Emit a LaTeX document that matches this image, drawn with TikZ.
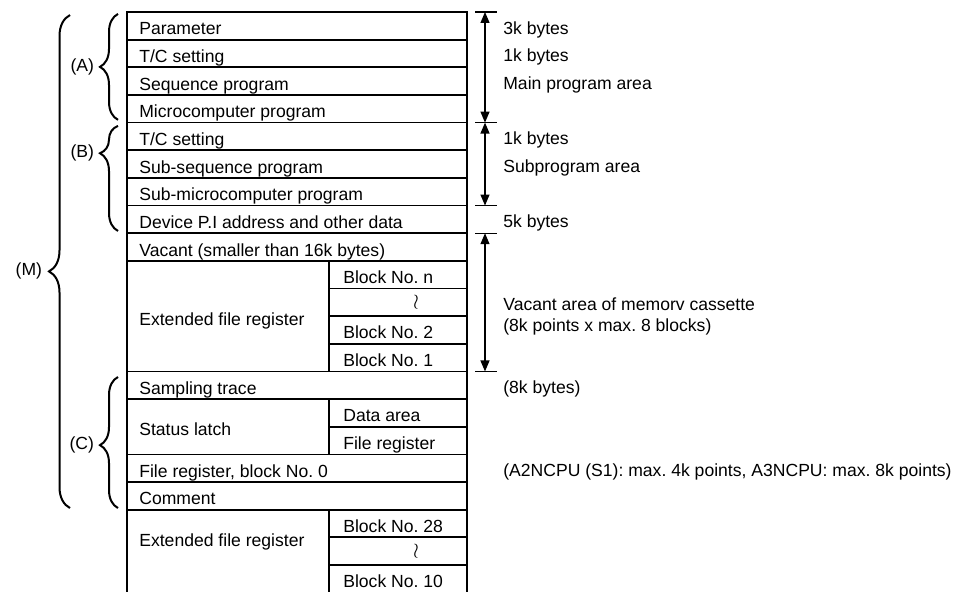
\documentclass[tikz,border=0pt]{standalone}
\usepackage{fontspec}
\setmainfont{Liberation Sans}
\usepackage{tikz}
\usetikzlibrary{arrows.meta,positioning,decorations.pathreplacing}
\frenchspacing
\tikzset{
  memmap/.style={x=0.2mm, y=-5.53mm, >={Triangle[length=2.2mm,width=1.8mm]},
                 every node/.style={font=\fontsize{10}{12}\selectfont, inner sep=0pt}},
  cell/.style={anchor=base west, yshift=-1.8mm},
  note/.style={anchor=base west, yshift=-1.7mm},
  gap/.style={font=\fontsize{13}{13}\selectfont},
  frm/.style={line width=0.55mm},
  hl/.style={line width=0.35mm},
  dim/.style={<->, line width=0.25mm},
  tk/.style={line width=0.25mm},
  grp/.style 2 args={decorate, decoration={brace, amplitude=#1, aspect=#2}, line width=0.4mm}
}

\begin{document}
\begin{tikzpicture}[memmap]
\useasboundingbox (0,-0.434) rectangle (967,20.976);
% table frame and rules
\draw[frm] (127,20.976) -- (127,0) -- (467,0) -- (467,20.976);
\draw[hl] (127,1) -- (467,1) (127,2) -- (467,2) (127,3) -- (467,3) (127,4) -- (467,4)
  (127,5) -- (467,5) (127,6) -- (467,6) (127,7) -- (467,7) (127,8) -- (467,8) (127,9) -- (467,9)
  (127,13) -- (467,13) (127,14) -- (467,14) (127,16) -- (467,16) (127,17) -- (467,17) (127,18) -- (467,18);
\draw[hl] (329,9) -- (329,13) (329,10) -- (467,10) (329,11) -- (467,11) (329,12) -- (467,12)
  (329,14) -- (329,16) (329,15) -- (467,15)
  (329,18) -- (329,20.976) (329,19) -- (467,19) (329,20) -- (467,20);
% cells
\node[cell] (par) at (139,0.5) {Parameter};
\node[cell] (tc1) at (139,1.5) {T/C setting};
\node[cell] (seq) at (139,2.5) {Sequence program};
\node[cell] (mic) at (139,3.5) {Microcomputer program};
\node[cell] (tc2) at (139,4.5) {T/C setting};
\node[cell] (sseq) at (139,5.5) {Sub-sequence program};
\node[cell] (smic) at (139,6.5) {Sub-microcomputer program};
\node[cell] (dev) at (139,7.5) {Device P.I address and other data};
\node[cell] (vac) at (139,8.5) {Vacant (smaller than 16k bytes)};
\node[cell] (ext1) at (139,11) {Extended file register};
\node[cell] (bn) at (343,9.5) {Block No. n};
\node[gap] (wr1) at (416,10.5) {$\wr$};
\node[cell] (b2) at (343,11.5) {Block No. 2};
\node[cell] (b1) at (343,12.5) {Block No. 1};
\node[cell] (smp) at (139,13.5) {Sampling trace};
\node[cell] (stl) at (139,15) {Status latch};
\node[cell] (dat) at (343,14.5) {Data area};
\node[cell] (fr) at (343,15.5) {File register};
\node[cell] (fr0) at (139,16.5) {File register, block No. 0};
\node[cell] (cmt) at (139,17.5) {Comment};
\node[cell] (ext2) at (139,19) {Extended file register};
\node[cell] (b28) at (343,18.5) {Block No. 28};
\node[gap] (wr2) at (416,19.5) {$\wr$};
\node[cell] (b10) at (343,20.5) {Block No. 10};
% group braces
\draw[grp={3.6mm}{0.5}] (118,3.9) -- (118,0.07) node[pos=0.5, left=4.6mm] (labA) {(A)};
\draw[grp={3.6mm}{0.74}] (118,7.92) -- (118,4.12) node[pos=0.74, left=4.6mm] (labB) {(B)};
\draw[grp={3.6mm}{0.48}] (118,17.94) -- (118,13.2) node[pos=0.48, left=4.6mm] (labC) {(C)};
\draw[grp={4.2mm}{0.48}] (70,17.94) -- (70,0.11) node[pos=0.48, left=5.4mm] (labM) {(M)};
% size arrows
\coordinate (s0) at (485,0);
\coordinate (s4) at (485,4);
\coordinate (s7) at (485,7);
\coordinate (s8) at (485,8);
\coordinate (s13) at (485,13);
\draw[tk] ([xshift=-2mm]s0) -- ([xshift=2.4mm]s0) ([xshift=-2mm]s4) -- ([xshift=2.4mm]s4)
  ([xshift=-2mm]s7) -- ([xshift=2.4mm]s7) ([xshift=-2mm]s8) -- ([xshift=2.4mm]s8)
  ([xshift=-2mm]s13) -- ([xshift=2.4mm]s13);
\draw[dim] (s0) -- (s4);
\draw[dim] (s4) -- (s7);
\draw[dim] (s8) -- (s13);
% notes
\node[note] (n3k) at (503,0.5) {3k bytes};
\node[note] (n1k) at (503,1.5) {1k bytes};
\node[note] (nmain) at (503,2.5) {Main program area};
\node[note] (n1kb) at (503,4.5) {1k bytes};
\node[note] (nsub) at (503,5.5) {Subprogram area};
\node[note] (n5k) at (503,7.5) {5k bytes};
\node[anchor=west, align=left] (nvac) at (503,11) {Vacant area of memorv cassette\\(8k points x max. 8 blocks)};
\node[note] (n8k) at (503,13.5) {(8k bytes)};
\node[note] (ncpu) at (503,16.5) {(A2NCPU (S1): max. 4k points, A3NCPU: max. 8k points)};
\end{tikzpicture}
\end{document}
